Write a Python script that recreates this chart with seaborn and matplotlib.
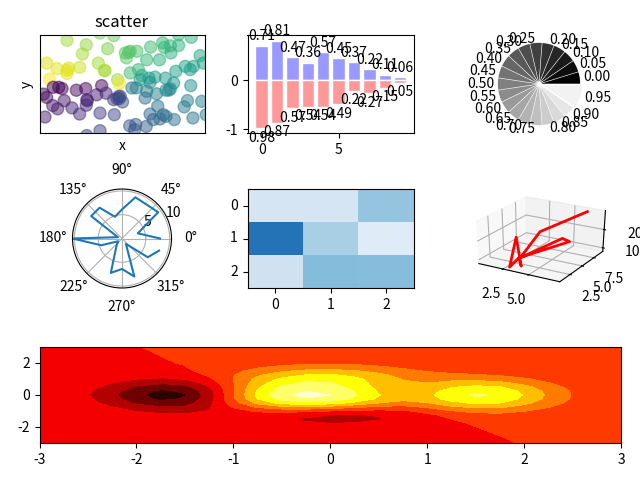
import numpy as np
import pandas as pd
import seaborn as sns
import matplotlib
matplotlib.use("Agg")
import matplotlib.pyplot as plt

plt.rcParams['font.family'] = ['Noto Sans CJK SC', 'DejaVu Sans']
plt.rcParams['axes.unicode_minus'] = False

# scatter
scatter_x = [-1.00, -0.65, -0.72, -0.40, -0.15, -0.26, 0.06, 0.12, 0.15, 0.08, 0.27, 0.52, 0.74, 1.03, 1.26, 0.77,
             0.88, 1.03, 0.89, 0.45, 0.68, 1.42, -1.37, -1.18, -0.97, -0.77, -1.00, -1.00, -0.43, -0.32, -0.31,
             -0.08, -0.05, -1.32, 0.15, 0.30, 0.36, 0.33, 0.49, 0.60, 0.51, 0.79, 0.98, 1.15, 1.30, 1.24, 1.48,
             0.94, 0.88, 1.25, -1.43, -1.37, -1.25, -1.15, -1.09, -1.05, -1.26, -1.17, -1.40, -0.91, -0.83, -0.66,
             -0.64, -0.63, -0.65, -0.77, -0.46, -0.37, -0.29, -0.40, -0.14, 0.18, 0.26, 0.45, 0.63, 0.80, 0.85,
             0.42, -0.09, -0.03, -0.05, 0.01, -0.15, -0.06, 0.65, 0.51, 0.57, 0.75, 0.80, 0.95, 0.69, 1.13, 1.19,
             1.45, 1.29, 0.14, 0.25, 0.23, 0.44, -0.40, -0.64, 1.53]
scatter_y = [1.34, 1.20, 0.92, 1.56, 1.48, 1.08, 0.95, 0.97, 1.00, 0.80, 1.00, 1.13, 1.26, 1.51, 1.43, 1.12,
             1.17, 1.18, 0.95, 0.74, 0.74, 0.87, 0.64, 0.47, 0.49, 0.51, 0.32, 0.42, 0.64, 0.41, 0.41,
             0.13, 0.01, 0.15, 0.34, 0.44, 0.26, 0.13, 0.18, 0.21, 0.05, 0.18, 0.39, 0.54, 0.54, 0.44, 0.64,
             0.03, -0.15, -0.05, -0.31, -0.41, -0.10, -0.10, -0.14, -0.51, -0.66, -0.76, -1.01, -0.73, -0.19, -0.14,
             -0.48, -0.51, -0.65, -0.92, -0.33, -0.05, -0.28, -0.89, -0.94, -0.12, -0.12, -0.22, -0.30, -0.19, -0.19,
             -0.43, -0.45, -0.38, -0.45, -0.55, -0.48, -0.38, -0.68, -0.92, -1.09, -0.94, -0.99, -1.09, -1.07, -0.70, -0.51,
             -0.53, -1.04, -1.28, -1.24, -1.40, -1.30, -1.43, -1.58, -0.94]

# bars
bar_pos = list(range(10))
bar_up = [0.71, 0.81, 0.47, 0.36, 0.57, 0.45, 0.37, 0.22, 0.11, 0.06]
bar_down = [0.98, 0.87, 0.57, 0.54, 0.54, 0.49, 0.22, 0.27, 0.15, 0.05]

# pie
pie_sizes = [1] * 19 + [2]
pie_labels = ['0.00', '0.05', '0.10', '0.15', '0.20', '0.25', '0.30', '0.35', '0.40', '0.45',
              '0.50', '0.55', '0.60', '0.65', '0.70', '0.75', '0.80', '0.85', '0.90', '0.95']

# polar line
polar_deg = [0, 18, 36, 54, 72, 90, 108, 126, 144, 162, 180, 198, 216, 234, 252, 270, 288, 306, 324, 342]
polar_r = [8.0, 3.5, 9.4, 8.8, 9.1, 6.1, 4.8, 8.0, 8.0, 0.9, 10.4, 4.6, 1.0, 2.0, 7.6, 6.4, 8.4, 1.4, 6.7, 8.2]

# heatmap
heat_vals = [[0.17, 0.17, 0.40],
             [0.74, 0.34, 0.12],
             [0.20, 0.44, 0.43]]

# 3d line
line_x = [6.6, 3.8, 2.75, 5.1, 5.4, 3.1, 3.8, 2.4, 2.9, 2.9]
line_y = [8.6, 5.0, 3.2, 6.8, 7.7, 2.3, 1.4, 3.2, 0.95, 2.75]
line_z = [29.5, 21.7, 9.5, 16.6, 13.7, 11.5, 9.5, 20.2, 8.7, 10.7]

# contour table
cont_x = [-3, -2.5, -2.25, -2, -1.75, -1.5, -1.25, -1, -0.75, -0.5, -0.25, 0,
          0.25, 0.5, 0.75, 1, 1.25, 1.5, 1.75, 2, 2.25, 2.5, 3]
cont_y = [-3, -2.5, -2, -1.75, -1.5, -1.25, -1, -0.75, -0.5, -0.25, 0,
          0.25, 0.5, 0.75, 1, 1.25, 1.5, 1.75, 2, 2.5, 3]
cont_z = [
    [-.02, -.02, -.02, -.02, -.02, -.02, -.02, -.02, -.02, -.02, -.02, -.02, -.02, -.02, -.02, -.02, -.02, -.02, -.01, .005, .02, .02, .02],
    [-.015, -.015, -.015, -.015, -.015, -.015, -.015, -.015, -.015, -.015, -.015, -.015, -.015, -.015, -.015, -.015, -.015, -.008, .001, .016, .02, .02, .02],
    [-.0005, -.004, -.008, -.013, -.019, -.026, -.036, -.051, -.072, -.097, -.118, -.128, -.122, -.103, -.074, -.044, -.018, -.0003, .007, .008, .005, .003, .0005],
    [-.001, -.009, -.018, -.030, -.044, -.055, -.067, -.084, -.113, -.151, -.186, -.204, -.197, -.167, -.120, -.067, -.019, .012, .024, .023, .016, .008, .001],
    [-.003, -.020, -.039, -.064, -.088, -.101, -.106, -.111, -.134, -.176, -.222, -.249, -.246, -.212, -.150, -.072, .001, .049, .065, .055, .036, .019, .003],
    [-.01, -.04, -.08, -.12, -.16, -.17, -.15, -.11, -.10, -.12, -.16, -.20, -.21, -.19, -.13, -.04, .06, .13, .14, .12, .08, .04, .01],
    [-.01, -.07, -.13, -.21, -.27, -.27, -.19, -.07, .03, .06, .04, 0, -.04, -.06, -.03, .07, .19, .26, .27, .21, .13, .07, .01],
    [-.02, -.11, -.20, -.32, -.40, -.38, -.22, .02, .23, .35, .38, .33, .24, .16, .14, .23, .36, .44, .43, .33, .21, .11, .02],
    [-.02, -.14, -.27, -.43, -.53, -.49, -.25, .11, .45, .66, .73, .68, .55, .40, .33, .39, .54, .63, .60, .45, .28, .15, .02],
    [-.03, -.17, -.33, -.52, -.64, -.58, -.285, .17, .60, .88, .98, .92, .76, .56, .45, .51, .67, .77, .73, .55, .34, .18, .03],
    [-.03, -.184, -.352, -.549, -.68, -.614, -.30, .184, .649, .949, 1.055, 1.0, .822, .608, .491, .552, .72, .823, .774, .586, .364, .188, .029],
    [-.03, -.17, -.33, -.51, -.64, -.57, -.28, .18, .62, .90, 1.00, .95, .79, .58, .47, .52, .68, .77, .73, .55, .34, .18, .03],
    [-.023, -.143, -.27, -.43, -.52, -.47, -.21, .18, .56, .82, .91, .88, .73, .55, .44, .47, .58, .65, .61, .46, .284, .146, .023],
    [-.017, -.105, -.20, -.31, -.38, -.32, -.12, .19, .51, .73, .83, .81, .69, .53, .42, .40, .46, .49, .45, .34, .21, .107, .017],
    [-.011, -.067, -.127, -.195, -.233, -.187, -.033, .203, .449, .636, .734, .736, .648, .511, .391, .338, .342, .342, .302, .223, .136, .07, .011],
    [-.006, -.038, -.071, -.108, -.124, -.086, .023, .19, .37, .519, .607, .62, .558, .447, .337, .267, .237, .216, .182, .131, .079, .04, .006],
    [-.003, -.019, -.035, -.051, -.055, -.027, .043, .15, .27, .375, .443, .459, .418, .34, .253, .188, .15, .123, .098, .068, .04, .02, .003],
    [-.001, -.008, -.015, -.021, -.02, -.003, .039, .101, .174, .24, .285, .298, .274, .224, .166, .118, .086, .065, .048, .032, .019, .009, .001],
    [-.0005, -.003, -.006, -.007, -.006, .004, .025, .057, .095, .131, .157, .165, .153, .125, .092, .064, .044, .03, .021, .013, .008, .004, .001],
    [-.02, -.02, -.02, -.014, .001, .01, .014, .016, .02, .02, .02, .02, .02, .02, .02, .02, .02, .02, .02, .02, .02, .02, .02],
    [-.02, -.02, -.02, -.003, .012, .021, .026, .028, .03, .03, .03, .03, .03, .03, .03, .03, .03, .03, .03, .03, .03, .03, .03],
]


def box(fig, left, top, right, bottom, **kw):
    # pixel box, y measured from the top of the picture
    return fig.add_axes([left / 640, 1 - bottom / 480, (right - left) / 640, (bottom - top) / 480], **kw)


fig = plt.figure(figsize=(6.4, 4.8), dpi=100)

# scatter
ax = box(fig, 39.5, 35, 204.5, 133)
angle = np.arctan2(scatter_y, scatter_x)
sns.scatterplot(x=scatter_x, y=scatter_y, hue=angle, palette='viridis', s=75, alpha=0.5,
                edgecolor='face', linewidth=1, legend=False, ax=ax)
ax.set_xlim(-1.5, 1.5)
ax.set_ylim(-1.5, 1.5)
ax.set_xticks([])
ax.set_yticks([])
ax.set_xlabel('x')
ax.set_ylabel('y')
ax.set_title('scatter')

# bars
ax = box(fig, 247.5, 35, 413.5, 133)
sns.barplot(x=bar_pos, y=bar_up, native_scale=True, color='#9999ff', saturation=1,
            edgecolor='white', errorbar=None, ax=ax)
sns.barplot(x=bar_pos, y=[-v for v in bar_down], native_scale=True, color='#ff9999', saturation=1,
            edgecolor='white', errorbar=None, ax=ax)
for p, u, d in zip(bar_pos, bar_up, bar_down):
    ax.text(p, u + 0.05, f'{u:.2f}', ha='center', va='bottom')
    ax.text(p, -d - 0.05, f'{d:.2f}', ha='center', va='top')
ax.set_xlim(-0.92, 9.87)
ax.set_ylim(-1.08, 0.925)
ax.set_xticks([0, 5])
ax.set_yticks([-1, 0])

# pie
ax = box(fig, 457, 35, 621, 133)
ax.pie(pie_sizes, explode=[s * 0.05 for s in pie_sizes], labels=pie_labels,
       colors=[lab for lab in pie_labels])
ax.set_aspect('equal')

# polar
ax = box(fig, 39.5, 189, 204.5, 288, projection='polar')
sns.lineplot(x=np.deg2rad(polar_deg), y=polar_r, sort=False, errorbar=None, ax=ax)
ax.set_rmax(10.4)
ax.set_rticks([5, 10])
ax.set_xlabel('')
ax.set_ylabel('')

# heatmap
ax = box(fig, 247.5, 189, 413.5, 288)
sns.heatmap(heat_vals, cmap='Blues', vmin=0, vmax=1, cbar=False, ax=ax)
for sp in ax.spines.values():
    sp.set_visible(True)
ax.tick_params(length=3.5)
ax.set_yticklabels([0, 1, 2], rotation=0)

# 3d line, box stretched over its slot like the reference
ax = box(fig, 468, 189, 612, 288, projection='3d')
ax.apply_aspect = lambda position=None: None
ax.plot(line_x, line_y, line_z, color='red', linewidth=2)
ax.set_xlim(0.07, 7.9)
ax.set_ylim(0.5, 9.5)
ax.set_zlim(8, 30)
ax.set_xticks([2.5, 5.0])
ax.set_yticks([2.5, 5.0, 7.5])
ax.set_zticks([10, 20])

# contour
ax = box(fig, 39.5, 347, 621, 443)
ax.contourf(cont_x, cont_y, cont_z, 8, cmap='hot')
ax.set_xticks([-3, -2, -1, 0, 1, 2, 3])
ax.set_yticks([-2, 0, 2])

fig.savefig('out.png', dpi=100)
